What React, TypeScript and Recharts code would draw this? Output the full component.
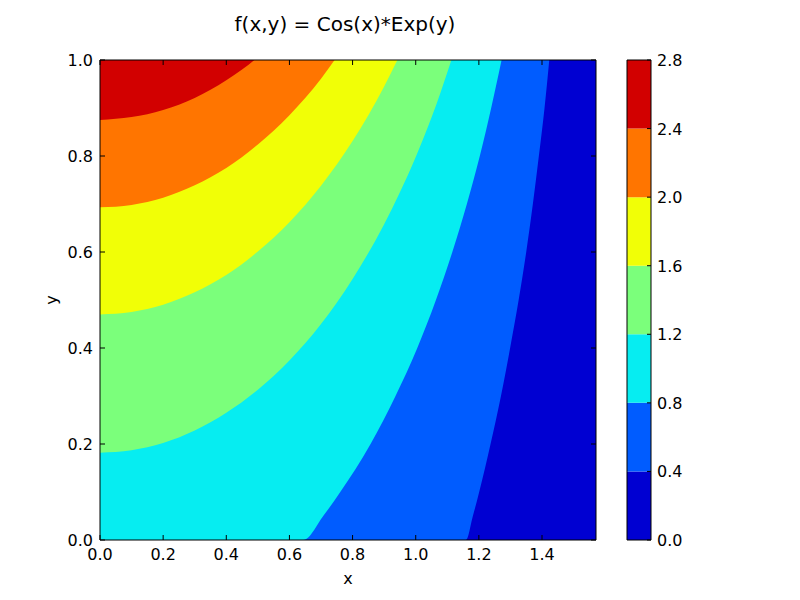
import { ComposedChart, Area, XAxis, YAxis, BarChart, Bar } from "recharts"

const xTicks = [0, 0.2, 0.4, 0.6, 0.8, 1.0, 1.2, 1.4]
const yTicks = [0, 0.2, 0.4, 0.6, 0.8, 1.0]
const levels = [0, 0.4, 0.8, 1.2, 1.6, 2.0, 2.4, 2.8]
const bandColors = ["#0000d2", "#005cff", "#06edf1", "#7bff7b", "#f1ff06", "#ff7500", "#d20000"]

const xMax = 1.571
const yTop = 1.0

// lower edge of the region f >= level
const c00X = [0, 1.571]
const c00Y = [0, 0]
const c04X = [0, 1.159, 1.181, 1.201, 1.237, 1.27, 1.299, 1.326, 1.35, 1.371, 1.39, 1.408, 1.423]
const c04Y = [0, 0, 0.05, 0.1, 0.2, 0.3, 0.4, 0.5, 0.6, 0.7, 0.8, 0.9, 1.0]
const c08X = [0, 0.644, 0.707, 0.761, 0.857, 0.936, 1.005, 1.064, 1.116, 1.162, 1.203, 1.239, 1.272]
const c08Y = [0, 0, 0.05, 0.1, 0.2, 0.3, 0.4, 0.5, 0.6, 0.7, 0.8, 0.9, 1.0]
const c12X = [0, 0.1, 0.2, 0.3, 0.4, 0.5, 0.6, 0.7, 0.8, 0.9, 1.0, 1.05, 1.08, 1.113]
const c12Y = [0.182, 0.187, 0.202, 0.228, 0.265, 0.313, 0.374, 0.45, 0.544, 0.658, 0.798, 0.88, 0.935, 1.0]
const c16X = [0, 0.1, 0.2, 0.3, 0.4, 0.5, 0.6, 0.7, 0.8, 0.9, 0.92, 0.942]
const c16Y = [0.47, 0.475, 0.49, 0.516, 0.552, 0.601, 0.662, 0.738, 0.831, 0.945, 0.971, 1.0]
const c20X = [0, 0.1, 0.2, 0.3, 0.4, 0.5, 0.6, 0.7, 0.743]
const c20Y = [0.693, 0.698, 0.713, 0.739, 0.775, 0.824, 0.885, 0.961, 1.0]
const c24X = [0, 0.1, 0.2, 0.3, 0.4, 0.45, 0.489]
const c24Y = [0.875, 0.881, 0.896, 0.921, 0.958, 0.98, 1.0]

const edges = [
  [c00X, c00Y],
  [c04X, c04Y],
  [c08X, c08Y],
  [c12X, c12Y],
  [c16X, c16Y],
  [c20X, c20Y],
  [c24X, c24Y],
]

const bands = edges.map(([xs, ys]) => xs.map((x, i) => ({ x, band: [ys[i], yTop] })))

const colorbarRow: Record<string, number | string> = { name: "cb" }
levels.slice(1).forEach((l, i) => {
  colorbarRow["b" + i] = +(l - levels[i]).toFixed(2)
})

const font = "DejaVu Sans, sans-serif"
const plotTop = 60
const plotBottom = 540
const plotLeft = 100
const plotRight = 596

const XTick = (props: any) => {
  const { x, payload } = props
  return (
    <g>
      <line x1={x} x2={x} y1={plotBottom} y2={plotBottom - 5} stroke="#000" />
      <line x1={x} x2={x} y1={plotTop} y2={plotTop + 5} stroke="#000" />
      <text x={x} y={plotBottom + 20} textAnchor="middle" fontSize={16} fontFamily={font} fill="#000">
        {payload.value.toFixed(1)}
      </text>
    </g>
  )
}

const YTick = (props: any) => {
  const { y, payload } = props
  return (
    <g>
      <line x1={plotLeft} x2={plotLeft + 5} y1={y} y2={y} stroke="#000" />
      <line x1={plotRight} x2={plotRight - 5} y1={y} y2={y} stroke="#000" />
      <text x={plotLeft - 7} y={y + 6} textAnchor="end" fontSize={16} fontFamily={font} fill="#000">
        {payload.value.toFixed(1)}
      </text>
    </g>
  )
}

const CbTick = (props: any) => {
  const { y, payload } = props
  return (
    <g>
      <line x1={651} x2={647} y1={y} y2={y} stroke="#000" />
      <text x={657} y={y + 6} textAnchor="start" fontSize={16} fontFamily={font} fill="#000">
        {payload.value.toFixed(1)}
      </text>
    </g>
  )
}

export default function App() {
  return (
    <div style={{ position: "absolute", left: 0, top: 0, width: 800, height: 600, background: "#fff" }}>
      <div style={{ position: "absolute", left: 0, top: 0 }}>
        <ComposedChart width={800} height={600} margin={{ top: 59, right: 203, bottom: 30, left: 40 }}>
          <XAxis dataKey="x" type="number" domain={[0, xMax]} ticks={xTicks} tick={<XTick />} tickLine={false}
            axisLine={{ stroke: "#000" }} height={30} allowDataOverflow />
          <XAxis xAxisId="top" orientation="top" type="number" domain={[0, xMax]} tick={false} tickLine={false}
            axisLine={{ stroke: "#000" }} height={1} />
          <YAxis type="number" domain={[0, 1]} ticks={yTicks} tick={<YTick />} tickLine={false}
            axisLine={{ stroke: "#000" }} width={60} allowDataOverflow />
          <YAxis yAxisId="right" orientation="right" type="number" domain={[0, 1]} tick={false} tickLine={false}
            axisLine={{ stroke: "#000" }} width={1} />
          {bands.map((d, i) => (
            <Area key={i} data={d} dataKey="band" type="monotone" fill={bandColors[i]} fillOpacity={1}
              stroke="none" isAnimationActive={false} dot={false} activeDot={false} />
          ))}
        </ComposedChart>
      </div>
      <div style={{ position: "absolute", left: 0, top: 0 }}>
        <BarChart width={800} height={600} data={[colorbarRow]} margin={{ top: 59, right: 148, bottom: 59, left: 626 }}
          barCategoryGap={0}>
          <XAxis dataKey="name" tick={false} tickLine={false} axisLine={{ stroke: "#000" }} height={1} />
          <XAxis xAxisId="top" dataKey="name" orientation="top" tick={false} tickLine={false}
            axisLine={{ stroke: "#000" }} height={1} />
          <YAxis orientation="right" type="number" domain={[0, 2.8]} ticks={levels} tick={<CbTick />}
            tickLine={false} axisLine={{ stroke: "#000" }} width={1} />
          <YAxis yAxisId="left" orientation="left" type="number" domain={[0, 2.8]} tick={false}
            tickLine={false} axisLine={{ stroke: "#000" }} width={1} />
          {bandColors.map((c, i) => (
            <Bar key={i} dataKey={"b" + i} stackId="cb" fill={c} isAnimationActive={false} />
          ))}
        </BarChart>
      </div>
      <svg width={800} height={600} style={{ position: "absolute", left: 0, top: 0, pointerEvents: "none" }}>
        <text x={345} y={31} textAnchor="middle" fontSize={20} fontFamily={font} fill="#000">
          f(x,y) = Cos(x)*Exp(y)
        </text>
        <text x={348} y={584} textAnchor="middle" fontSize={16} fontFamily={font} fill="#000">x</text>
        <text x={0} y={0} transform="translate(57,300) rotate(-90)" textAnchor="middle" fontSize={16}
          fontFamily={font} fill="#000">y</text>
      </svg>
    </div>
  )
}
